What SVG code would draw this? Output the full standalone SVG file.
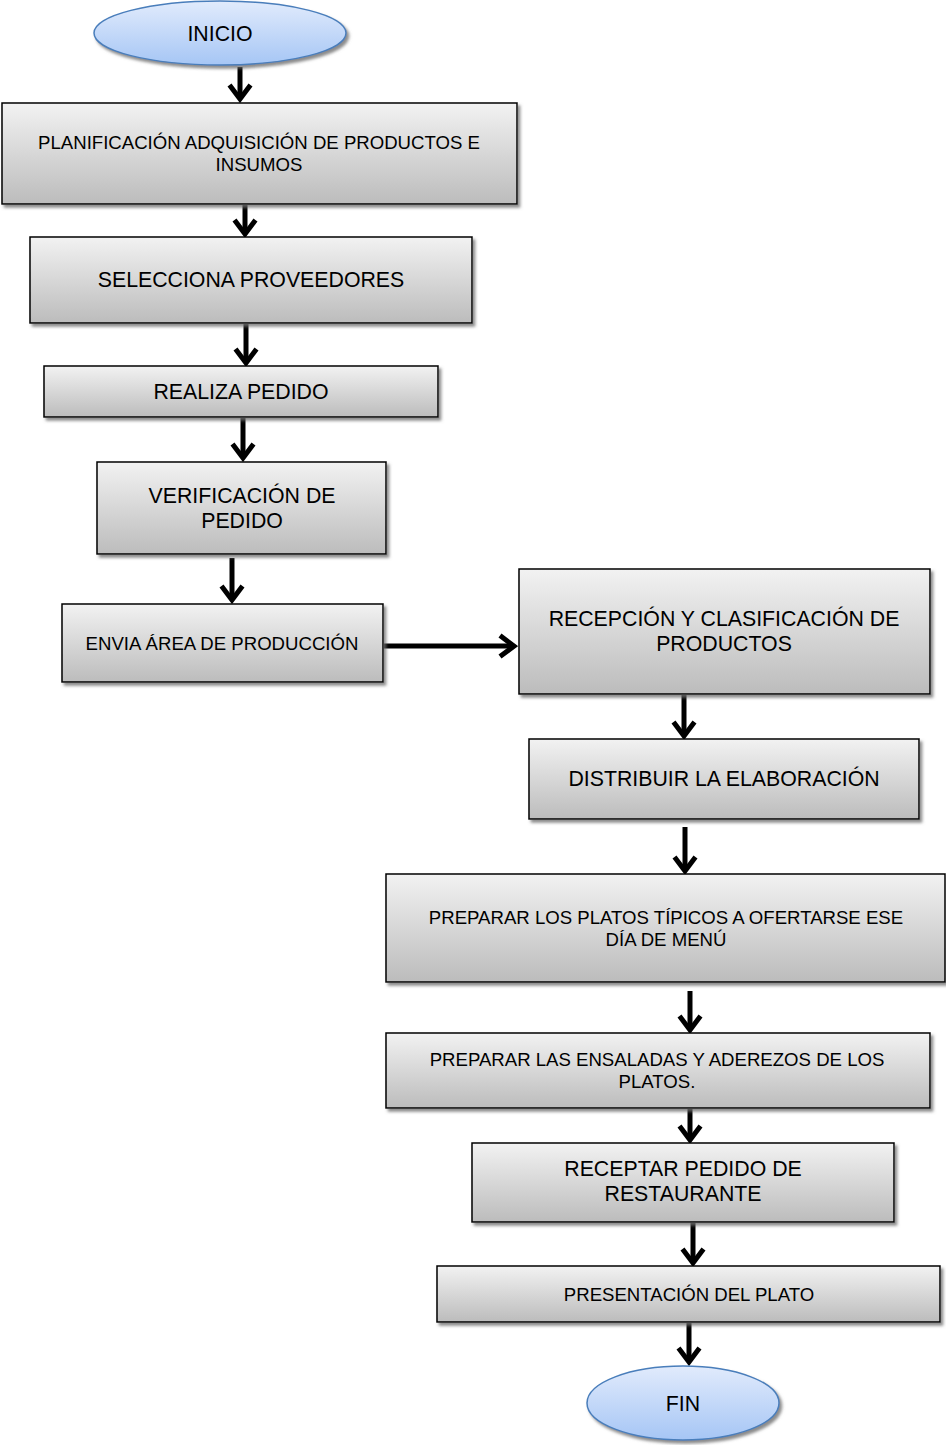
<svg xmlns="http://www.w3.org/2000/svg" width="946" height="1445" viewBox="0 0 946 1445">
  <defs>
    <linearGradient id="boxFill" x1="0" y1="0" x2="0" y2="1">
      <stop offset="0" stop-color="#f2f2f2"/>
      <stop offset="1" stop-color="#bcbcbc"/>
    </linearGradient>
    <linearGradient id="ovalFill" x1="0" y1="0" x2="0" y2="1">
      <stop offset="0" stop-color="#e1ebfc"/>
      <stop offset="1" stop-color="#a6c6f5"/>
    </linearGradient>
    <filter id="shadow" x="-10%" y="-10%" width="120%" height="130%">
      <feDropShadow dx="2.5" dy="3" stdDeviation="1.5" flood-color="#6e6e6e" flood-opacity="0.8"/>
    </filter>
    <marker id="chevron" viewBox="0 0 22 26" refX="18" refY="13" markerWidth="22" markerHeight="26" markerUnits="userSpaceOnUse" orient="auto">
      <path d="M4 2.5 L18 13 L4 23.5" fill="none" stroke="#000" stroke-width="5" stroke-linejoin="miter"/>
    </marker>
  </defs>
  <style>
    .box { fill: url(#boxFill); stroke: #000; stroke-width: 1.5; filter: url(#shadow); }
    .oval { fill: url(#ovalFill); stroke: #4a7ebb; stroke-width: 1.5; filter: url(#shadow); }
    .t { font-family: "Liberation Sans", Arial, sans-serif; fill: #000; text-anchor: middle; }
    .lg { font-size: 21.3px; }
    .sm { font-size: 18.6px; }
    .arrow { fill: none; stroke: #000; stroke-width: 5; marker-end: url(#chevron); }
  </style>

  <!-- connectors -->
  <g id="connectors">
    <path class="arrow" d="M240 67 V99"/>
    <path class="arrow" d="M245 205 V234"/>
    <path class="arrow" d="M246 324 V363"/>
    <path class="arrow" d="M243 418 V458"/>
    <path class="arrow" d="M232 558 V600"/>
    <path class="arrow" d="M384 646 H514"/>
    <path class="arrow" d="M684 695 V736"/>
    <path class="arrow" d="M685 827 V871"/>
    <path class="arrow" d="M690 991 V1030"/>
    <path class="arrow" d="M690 1109 V1140"/>
    <path class="arrow" d="M693 1223 V1263"/>
    <path class="arrow" d="M689 1323 V1362"/>
  </g>

  <g id="inicio">
    <ellipse class="oval" cx="220" cy="33" rx="126" ry="32"/>
    <text class="t lg" x="220" y="40.5">INICIO</text>
  </g>

  <g id="planificacion">
    <rect class="box" x="2" y="103" width="515" height="101"/>
    <text class="t sm" x="259" y="148.6">PLANIFICACIÓN ADQUISICIÓN DE PRODUCTOS E</text>
    <text class="t sm" x="259" y="170.6">INSUMOS</text>
  </g>

  <g id="selecciona">
    <rect class="box" x="30" y="237" width="442" height="86"/>
    <text class="t lg" x="251" y="286.5">SELECCIONA PROVEEDORES</text>
  </g>

  <g id="realiza">
    <rect class="box" x="44" y="366" width="394" height="51"/>
    <text class="t lg" x="241" y="398.5">REALIZA PEDIDO</text>
  </g>

  <g id="verificacion">
    <rect class="box" x="97" y="462" width="289" height="92"/>
    <text class="t lg" x="242" y="502.5">VERIFICACIÓN DE</text>
    <text class="t lg" x="242" y="527.5">PEDIDO</text>
  </g>

  <g id="envia">
    <rect class="box" x="62" y="604" width="321" height="78"/>
    <text class="t sm" x="222" y="649.6">ENVIA ÁREA DE PRODUCCIÓN</text>
  </g>

  <g id="recepcion">
    <rect class="box" x="519" y="569" width="411" height="125"/>
    <text class="t lg" x="724" y="625.5">RECEPCIÓN Y CLASIFICACIÓN DE</text>
    <text class="t lg" x="724" y="650.5">PRODUCTOS</text>
  </g>

  <g id="distribuir">
    <rect class="box" x="529" y="739" width="390" height="80"/>
    <text class="t lg" x="724" y="785.5">DISTRIBUIR LA ELABORACIÓN</text>
  </g>

  <g id="platos-tipicos">
    <rect class="box" x="386" y="874" width="559" height="108"/>
    <text class="t sm" x="666" y="923.6">PREPARAR LOS PLATOS TÍPICOS A OFERTARSE ESE</text>
    <text class="t sm" x="666" y="945.6">DÍA DE MENÚ</text>
  </g>

  <g id="ensaladas">
    <rect class="box" x="386" y="1033" width="544" height="75"/>
    <text class="t sm" x="657" y="1065.6">PREPARAR LAS ENSALADAS Y ADEREZOS DE LOS</text>
    <text class="t sm" x="657" y="1087.6">PLATOS.</text>
  </g>

  <g id="receptar">
    <rect class="box" x="472" y="1143" width="422" height="79"/>
    <text class="t lg" x="683" y="1175.5">RECEPTAR PEDIDO DE</text>
    <text class="t lg" x="683" y="1200.5">RESTAURANTE</text>
  </g>

  <g id="presentacion">
    <rect class="box" x="437" y="1266" width="503" height="56"/>
    <text class="t sm" x="689" y="1300.6">PRESENTACIÓN DEL PLATO</text>
  </g>

  <g id="fin">
    <ellipse class="oval" cx="683" cy="1403" rx="96" ry="37"/>
    <text class="t lg" x="683" y="1410.5">FIN</text>
  </g>
</svg>
